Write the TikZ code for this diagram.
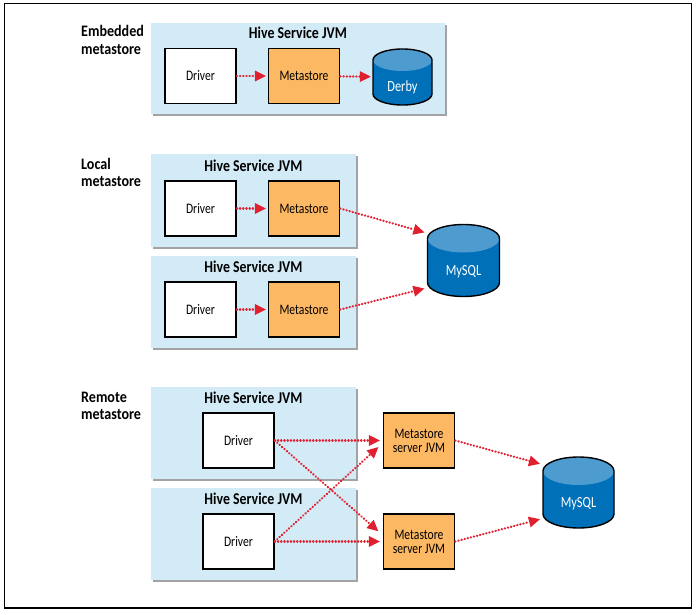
\documentclass[tikz,border=0pt]{standalone}
\usepackage{fontspec}
\setmainfont{Carlito}
\newfontfamily\narrowfont[FakeStretch=0.8]{Carlito}
\newfontfamily\titlefont[FakeStretch=0.84]{Carlito Bold}
\newfontfamily\headfont[FakeStretch=0.88]{Carlito Bold}
\usetikzlibrary{arrows.meta,shadows}
\definecolor{hivefill}{HTML}{D3EBF7}
\definecolor{storefill}{HTML}{FDB863}
\definecolor{dbbody}{HTML}{0070B8}
\definecolor{dblid}{HTML}{4E9BD0}
\definecolor{linkred}{HTML}{E0202F}
\tikzset{
  hivebox/.style={fill=hivefill, minimum width=205pt, minimum height=92pt, inner sep=0pt,
    drop shadow={shadow xshift=2pt, shadow yshift=-2pt, fill=black!45, opacity=0.8}},
  title/.style={font=\titlefont\fontsize{16.5}{16.5}\selectfont, inner sep=0pt},
  heading/.style={font=\headfont\fontsize{16}{17.5}\selectfont, align=left, anchor=north west, inner sep=0pt},
  driverbox/.style={draw=black, line width=1.4pt, fill=white, minimum width=71pt, minimum height=55pt,
    inner sep=0pt, font=\narrowfont\fontsize{14.5}{14.5}\selectfont},
  storebox/.style={driverbox, fill=storefill},
  serverbox/.style={storebox, align=center, font=\narrowfont\fontsize{14.5}{14}\selectfont},
  dbnode/.style={inner sep=0pt, text=white, font=\narrowfont\fontsize{15.5}{15.5}\selectfont},
  link/.style={draw=linkred, line width=2.2pt, line cap=round, dash pattern=on 0.4pt off 2.8pt,
    -{Triangle[length=11pt,width=11pt,fill=linkred,line width=0pt,sep=0pt]}}
}
% name, x, y, half width, half height, lid radius, text
\newcommand{\dbcyl}[7]{%
  \begin{scope}[shift={(#2,#3)}]
    \fill[dbbody] (-#4,-#5+#6) arc[start angle=180,end angle=0,x radius=#4pt,y radius=#6pt]
      -- (#4,#5-#6) arc[start angle=0,end angle=-180,x radius=#4pt,y radius=#6pt] -- cycle;
    \fill[dblid] (0,-#5+#6) ellipse[x radius=#4pt,y radius=#6pt];
    \draw[black,line width=1.4pt] (-#4,-#5+#6) arc[start angle=180,end angle=0,x radius=#4pt,y radius=#6pt]
      -- (#4,#5-#6) arc[start angle=0,end angle=-180,x radius=#4pt,y radius=#6pt] -- cycle;
  \end{scope}
  \node[dbnode, minimum width=2*#4 pt, minimum height=2*#5 pt] (#1) at (#2,#3) {\raisebox{-15pt}[0pt][0pt]{#7}};
}
\begin{document}
\begin{tikzpicture}[x=1pt,y=-1pt]
  \useasboundingbox (0,0) rectangle (696,615);
  \draw[black, line width=1.2pt] (4.5,3.5) rectangle (691.5,608);

  % embedded
  \node[heading] (embedded) at (81,25.5) {Embedded\\metastore};
  \node[hivebox, minimum width=294pt, minimum height=91pt] (hive1) at (298,68.5) {};
  \node[title] (title1) at (298,33) {Hive Service JVM};
  \node[driverbox] (driver1) at (200.5,76) {Driver};
  \node[storebox] (store1) at (304,76) {Metastore};
  \dbcyl{derby}{402.5}{77}{29.5}{28}{11}{Derby}
  \draw[link, shorten >=2pt] (driver1) -- (store1);
  \draw[link, shorten >=2pt] (store1) -- (derby);

  % local
  \node[heading] (local) at (81,158) {Local\\metastore};
  \node[hivebox] (hive2) at (253.5,200.5) {};
  \node[hivebox] (hive3) at (253.5,301.5) {};
  \node[title] (title2) at (253.5,166) {Hive Service JVM};
  \node[title] (title3) at (253.5,267) {Hive Service JVM};
  \node[driverbox] (driver2) at (200.5,208.5) {Driver};
  \node[driverbox] (driver3) at (200.5,309.5) {Driver};
  \node[storebox] (store2) at (304,208.5) {Metastore};
  \node[storebox] (store3) at (304,309.5) {Metastore};
  \dbcyl{mysql1}{463.5}{260.5}{36}{36}{14}{MySQL}
  \draw[link, shorten >=2pt] (driver2) -- (store2);
  \draw[link, shorten >=2pt] (driver3) -- (store3);
  \draw[link, shorten >=3pt] (store2.east) -- (mysql1.143);
  \draw[link, shorten >=3pt] (store3.east) -- (mysql1.217);

  % remote
  \node[heading] (remote) at (81,391.5) {Remote\\metastore};
  \node[hivebox] (hive4) at (253.5,433) {};
  \node[hivebox] (hive5) at (253.5,534) {};
  \node[title] (title4) at (253.5,398) {Hive Service JVM};
  \node[title] (title5) at (253.5,499) {Hive Service JVM};
  \node[driverbox] (driver4) at (238.5,440.5) {Driver};
  \node[driverbox] (driver5) at (238.5,541.5) {Driver};
  \node[serverbox] (server1) at (419,440.5) {Metastore\\server JVM};
  \node[serverbox] (server2) at (419,541.5) {Metastore\\server JVM};
  \dbcyl{mysql2}{578.5}{492.5}{35.5}{35.5}{14}{MySQL}
  \draw[link, shorten >=3pt] (driver4.east) -- (server1.west);
  \draw[link, shorten >=3pt] (driver5.east) -- (server2.west);
  \draw[link, shorten >=6pt] (driver4.east) -- (server2.170);
  \draw[link, shorten >=6pt] (driver5.east) -- (server1.184);
  \draw[link, shorten >=3pt] (server1.east) -- (mysql2.142);
  \draw[link, shorten >=3pt] (server2.east) -- (mysql2.216);
\end{tikzpicture}
\end{document}
